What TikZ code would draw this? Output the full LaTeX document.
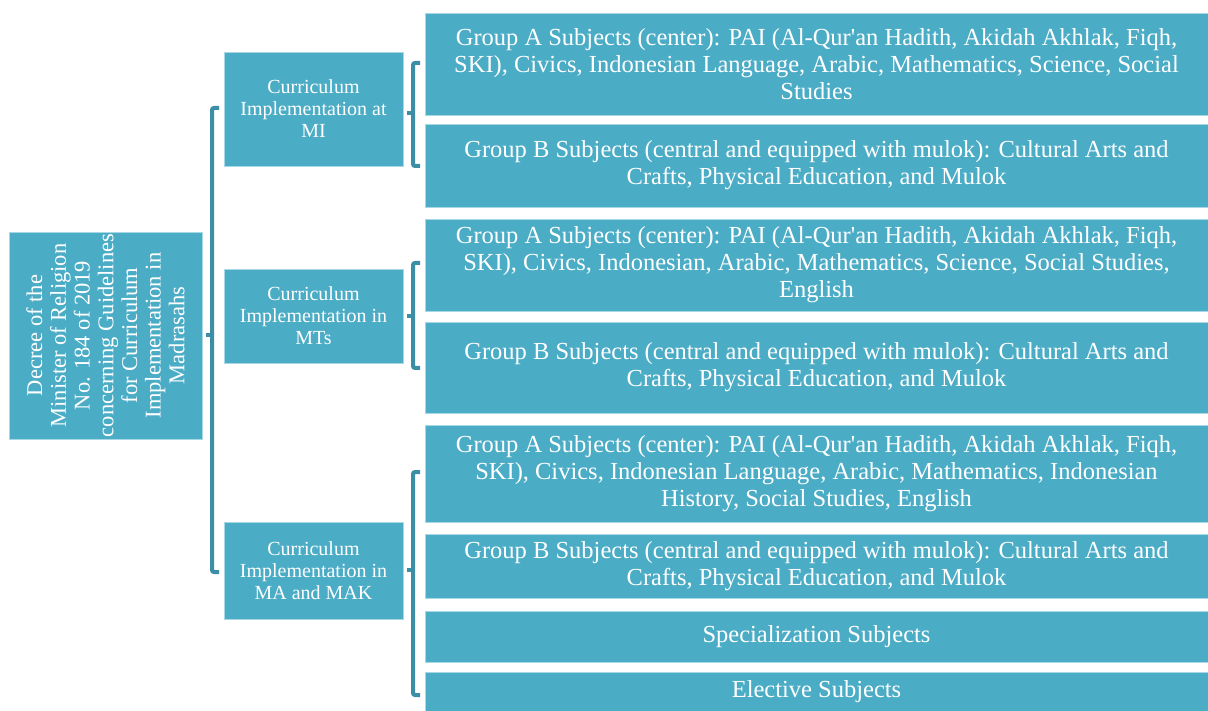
\documentclass[tikz,border=0pt]{standalone}
\usepackage{fontspec}
\setmainfont{Liberation Serif}
\usetikzlibrary{calc}
\definecolor{boxfill}{HTML}{4BACC6}
\definecolor{boxline}{HTML}{A8D8E6}
\definecolor{bracecol}{HTML}{3C8EA6}
\newcommand{\apo}{\textquotesingle}
\tikzset{
  box/.style={draw=boxline, line width=0.8pt, fill=boxfill, text=white, align=center, inner sep=1pt},
  bigtext/.style={font=\fontsize{24.5}{27}\selectfont},
  midtext/.style={font=\fontsize{20}{22}\selectfont},
  roottext/.style={font=\fontsize{22.5}{23.7}\selectfont},
  bracket/.style={draw=bracecol, line width=4pt, rounded corners=2pt, line cap=butt},
}
\begin{document}
\begin{tikzpicture}[x=1pt,y=-1pt]
\useasboundingbox (0,0) rectangle (1208,711);
% root
\node[box, roottext, rotate=90, minimum width=207pt, minimum height=193pt] (root) at (105.5,335.5)
  {Decree of the\\Minister of Religion\\No. 184 of 2019\\concerning Guidelines\\for Curriculum\\Implementation in\\Madrasahs};
% level 2
\node[box, midtext, minimum width=179pt, minimum height=114pt] (mi) at (313.5,109)
  {Curriculum\\Implementation at\\MI};
\node[box, midtext, minimum width=179pt, minimum height=94pt] (mts) at (313.5,316)
  {Curriculum\\Implementation in\\MTs};
\node[box, midtext, minimum width=179pt, minimum height=97pt] (ma) at (313.5,570.5)
  {Curriculum\\Implementation in\\MA and MAK};
% level 3
\node[box, bigtext, minimum width=783pt, minimum height=102pt] (a1) at (816.5,64)
  {Group A Subjects (center): PAI (Al-Qur\apo an Hadith, Akidah Akhlak, Fiqh,\\SKI), Civics, Indonesian Language, Arabic, Mathematics, Science, Social\\Studies};
\node[box, bigtext, minimum width=783pt, minimum height=83pt] (b1) at (816.5,165.5)
  {Group B Subjects (central and equipped with mulok): Cultural Arts and\\Crafts, Physical Education, and Mulok};
\node[box, bigtext, minimum width=783pt, minimum height=92pt] (a2) at (816.5,265)
  {Group A Subjects (center): PAI (Al-Qur\apo an Hadith, Akidah Akhlak, Fiqh,\\SKI), Civics, Indonesian, Arabic, Mathematics, Science, Social Studies,\\English};
\node[box, bigtext, minimum width=783pt, minimum height=91pt] (b2) at (816.5,367.5)
  {Group B Subjects (central and equipped with mulok): Cultural Arts and\\Crafts, Physical Education, and Mulok};
\node[box, bigtext, minimum width=783pt, minimum height=97pt] (a3) at (816.5,473.5)
  {Group A Subjects (center): PAI (Al-Qur\apo an Hadith, Akidah Akhlak, Fiqh,\\SKI), Civics, Indonesian Language, Arabic, Mathematics, Indonesian\\History, Social Studies, English};
\node[box, bigtext, minimum width=783pt, minimum height=64pt] (b3) at (816.5,566)
  {Group B Subjects (central and equipped with mulok): Cultural Arts and\\Crafts, Physical Education, and Mulok};
\node[box, bigtext, minimum width=783pt, minimum height=51pt] (sp) at (816.5,636.5)
  {Specialization Subjects};
\node[box, bigtext, minimum width=783pt, minimum height=39pt] (el) at (816.5,691.5)
  {Elective Subjects};
% brackets: coordinates
\coordinate (B0t) at (212,108);
\coordinate (B0b) at (212,572);
\coordinate (B0m) at (212,335);
\coordinate (B1t) at (413,63);
\coordinate (B1b) at (413,166);
\coordinate (B1m) at (413,113);
\coordinate (B2t) at (413,263);
\coordinate (B2b) at (413,368);
\coordinate (B2m) at (413,316);
\coordinate (B3t) at (413,472);
\coordinate (B3b) at (413,695);
\coordinate (B3m) at (413,570);
\foreach \b in {B0,B1,B2,B3}{
  \draw[bracket] ($(\b t)+(7,0)$) -- (\b t) -- (\b b) -- ($(\b b)+(7,0)$);
  \draw[draw=bracecol, line width=4pt] (\b m) -- ++(-6,0);
}
\end{tikzpicture}
\end{document}
